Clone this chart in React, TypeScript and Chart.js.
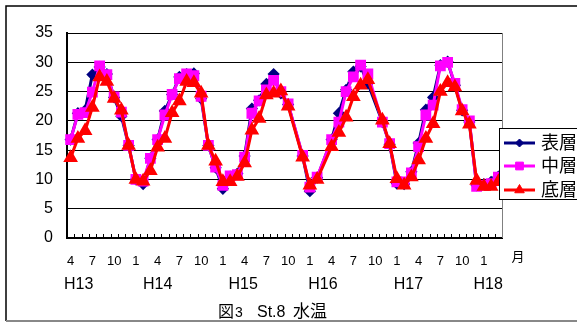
import React, { useEffect, useRef } from "react";
import { Chart, registerables } from "chart.js";

Chart.register(...registerables);

const months: string[] = [
  "4", "5", "6", "7", "8", "9", "10", "11", "12", "1", "2", "3",
  "4", "5", "6", "7", "8", "9", "10", "11", "12", "1", "2", "3",
  "4", "5", "6", "7", "8", "9", "10", "11", "12", "1", "2", "3",
  "4", "5", "6", "7", "8", "9", "10", "11", "12", "1", "2", "3",
  "4", "5", "6", "7", "8", "9", "10", "11", "12", "1", "2", "3",
];

const yearLabels: string[] = ["H13", "H14", "H15", "H16", "H17", "H18"];

const surface: (number | null)[] = [
  16.8, 21.3, 21.8, 27.9, 29.2, 28.0, 24.0, 20.8, 15.8, 10.0, 9.2, 13.6,
  16.8, 21.7, 24.5, 27.5, 28.0, 28.1, 23.8, 15.8, 12.0, 8.4, 10.5, 11.0,
  14.0, 22.1, 23.5, 26.3, 28.0, 24.7, 22.8, null, 14.0, 8.0, 10.3, null,
  16.8, 21.3, 25.3, 28.4, 29.3, 26.4, null, 19.8, 16.0, 9.3, 9.2, 11.3,
  16.2, 21.9, 24.0, 29.5, 30.1, 26.1, 21.8, 19.8, 9.0, 9.2, 9.6, 10.5,
];

const middle: (number | null)[] = [
  16.8, 21.1, 21.4, 24.9, 29.4, 27.9, 24.1, 21.5, 15.8, 10.0, 9.7, 13.6,
  16.8, 21.0, 24.5, 27.2, 28.0, 27.7, 24.2, 15.8, 12.1, 9.0, 10.6, 10.8,
  13.8, 21.3, 23.4, 25.3, 26.9, 25.0, 22.9, null, 14.1, 8.7, 10.4, null,
  16.8, 19.8, 25.0, 27.5, 29.5, 28.0, null, 19.8, 16.1, 9.6, 9.6, 11.1,
  15.6, 21.0, 22.7, 29.4, 30.0, 26.4, 21.9, 20.0, 8.8, 9.0, 9.3, 10.4,
];

const bottom: (number | null)[] = [
  13.7, 17.0, 18.3, 22.3, 27.5, 26.7, 23.8, 21.8, 15.8, 10.0, 9.7, 11.5,
  15.5, 17.0, 21.4, 23.4, 26.7, 26.5, 24.7, 15.8, 13.1, 9.6, 9.6, 10.5,
  12.8, 18.4, 20.4, 24.4, 24.7, 25.1, 22.5, null, 13.8, 9.0, 10.0, null,
  15.6, 18.0, 20.6, 24.1, 26.1, 27.0, null, 20.1, 16.1, 10.1, 9.0, 10.4,
  13.3, 17.0, 19.5, 25.0, 26.5, 25.8, 21.7, 19.4, 9.8, 8.8, 8.8, 9.6,
];

const seriesNames: string[] = ["表層", "中層", "底層"];

const LATIN = '"Liberation Sans", Arial, sans-serif';
const CJK = '"Liberation Sans", "Noto Sans CJK JP", sans-serif';

function drawMarker(ctx: any, style: string, r: number, x: number, y: number) {
  ctx.beginPath();
  if (style === "rectRot") {
    ctx.moveTo(x, y - r);
    ctx.lineTo(x + r, y);
    ctx.lineTo(x, y + r);
    ctx.lineTo(x - r, y);
  } else if (style === "rect") {
    const s = r * Math.SQRT1_2;
    ctx.rect(x - s, y - s, 2 * s, 2 * s);
  } else {
    const h = r * 1.5;
    const w = (r * Math.sqrt(3)) / 2;
    ctx.moveTo(x, y - r);
    ctx.lineTo(x + w, y - r + h);
    ctx.lineTo(x - w, y - r + h);
  }
  ctx.closePath();
  ctx.fill();
  ctx.stroke();
}

const decorPlugin = {
  id: "decor",
  beforeDraw(chart: any) {
    const ctx = chart.ctx;
    ctx.save();
    ctx.fillStyle = "#ffffff";
    ctx.fillRect(0, 0, chart.width, chart.height);
    ctx.strokeStyle = "#000000";
    ctx.lineWidth = 1.5;
    ctx.beginPath();
    ctx.moveTo(6, 321);
    ctx.lineTo(6, 6);
    ctx.lineTo(chart.width, 6);
    ctx.stroke();
    ctx.strokeStyle = "#888888";
    ctx.lineWidth = 2;
    ctx.beginPath();
    ctx.moveTo(6, 321);
    ctx.lineTo(chart.width, 321);
    ctx.stroke();
    ctx.restore();
  },
  afterDraw(chart: any) {
    const ctx = chart.ctx;
    const x = chart.scales.x;
    const area = chart.chartArea;
    ctx.save();
    ctx.strokeStyle = "#808080";
    ctx.lineWidth = 1;
    ctx.beginPath();
    ctx.moveTo(area.right + 0.5, area.top);
    ctx.lineTo(area.right + 0.5, area.bottom);
    ctx.stroke();
    ctx.strokeStyle = "#000000";
    ctx.lineWidth = 1;
    ctx.beginPath();
    for (let i = 1; i < months.length; i++) {
      const px = Math.round(x.getPixelForValue(i - 0.5)) + 0.5;
      ctx.moveTo(px, area.bottom);
      ctx.lineTo(px, area.bottom - 4);
    }
    ctx.stroke();
    const yearPos = [1.1, 12.0, 23.8, 34.8, 46.6, 57.6];
    ctx.fillStyle = "#000000";
    ctx.font = "16px " + LATIN;
    ctx.textAlign = "center";
    ctx.textBaseline = "middle";
    yearLabels.forEach((t, k) => {
      ctx.fillText(t, x.getPixelForValue(yearPos[k]), 285);
    });
    ctx.font = "13px " + CJK;
    ctx.fillText("月", area.right + 16, 257);
    ctx.textAlign = "left";
    ctx.textBaseline = "alphabetic";
    ctx.font = "16px " + CJK;
    ctx.fillText("図", 218, 317);
    ctx.font = "14px " + LATIN;
    ctx.fillText("3", 235, 317);
    ctx.font = "16px " + LATIN;
    ctx.fillText("St.8", 257, 317);
    ctx.font = "17px " + CJK;
    ctx.fillText("水温", 293, 317);
    const lx = 499;
    const ly = 128;
    ctx.fillStyle = "#ffffff";
    ctx.fillRect(lx, ly, chart.width - lx + 10, 71);
    ctx.strokeStyle = "#000000";
    ctx.lineWidth = 1;
    ctx.strokeRect(lx + 0.5, ly + 0.5, chart.width - lx + 10, 71);
    const rows = [143, 166, 190];
    chart.data.datasets.forEach((ds: any, k: number) => {
      const yy = rows[k];
      ctx.strokeStyle = ds.borderColor;
      ctx.lineWidth = 3;
      ctx.beginPath();
      ctx.moveTo(504, yy);
      ctx.lineTo(535, yy);
      ctx.stroke();
      ctx.fillStyle = ds.pointBackgroundColor;
      ctx.strokeStyle = ds.pointBorderColor;
      ctx.lineWidth = 1;
      drawMarker(ctx, ds.pointStyle, ds.pointRadius, 519.5, yy);
      ctx.fillStyle = "#000000";
      ctx.font = "18px " + CJK;
      ctx.textAlign = "left";
      ctx.textBaseline = "middle";
      ctx.fillText(seriesNames[k], 541, yy + 1);
    });
    ctx.restore();
  },
};

export default function App() {
  const ref = useRef<HTMLCanvasElement | null>(null);
  useEffect(() => {
    if (!ref.current) return;
    const chart = new Chart(ref.current, {
      type: "line",
      data: {
        labels: months,
        datasets: [
          {
            label: seriesNames[0],
            data: surface,
            borderColor: "#000080",
            backgroundColor: "#000080",
            pointBackgroundColor: "#000080",
            pointBorderColor: "#000080",
            pointStyle: "rectRot",
            pointRadius: 4,
            borderWidth: 3,
            order: 3,
          },
          {
            label: seriesNames[1],
            data: middle,
            borderColor: "#ff00ff",
            backgroundColor: "#ff00ff",
            pointBackgroundColor: "#ff00ff",
            pointBorderColor: "#ff00ff",
            pointStyle: "rect",
            pointRadius: 5.5,
            borderWidth: 3,
            order: 2,
          },
          {
            label: seriesNames[2],
            data: bottom,
            borderColor: "#ff0000",
            backgroundColor: "#ff0000",
            pointBackgroundColor: "#ff0000",
            pointBorderColor: "#ff0000",
            pointStyle: "triangle",
            pointRadius: 5.5,
            borderWidth: 3,
            order: 1,
          },
        ],
      },
      options: {
        responsive: false,
        animation: false,
        spanGaps: true,
        events: [],
        layout: { padding: { top: 33, right: 75, left: 0, bottom: 0 } },
        plugins: {
          legend: { display: false },
          tooltip: { enabled: false },
          title: { display: false },
        },
        scales: {
          x: {
            type: "category",
            offset: true,
            grid: { display: false, drawTicks: false },
            border: { display: true, color: "#000000", width: 2 },
            ticks: {
              autoSkip: false,
              maxRotation: 0,
              minRotation: 0,
              padding: 16,
              color: "#000000",
              font: { family: LATIN, size: 13 },
              callback: (_v: any, i: number) => (i % 3 === 0 ? months[i] : ""),
            },
            afterFit: (s: any) => {
              s.height = 85;
            },
          },
          y: {
            min: 0,
            max: 35,
            ticks: {
              stepSize: 5,
              padding: 14,
              color: "#000000",
              font: { family: LATIN, size: 16 },
            },
            grid: { color: "#000000", lineWidth: 1, drawTicks: false },
            border: { display: true, color: "#000000", width: 2 },
            afterFit: (s: any) => {
              s.width = 67;
            },
          },
        },
      },
      plugins: [decorPlugin],
    } as any);
    return () => chart.destroy();
  }, []);
  return (
    <div style={{ position: "absolute", left: 0, top: 0, width: 577, height: 323, background: "#fff" }}>
      <canvas ref={ref} width={577} height={323} style={{ display: "block", width: 577, height: 323 }} />
    </div>
  );
}
